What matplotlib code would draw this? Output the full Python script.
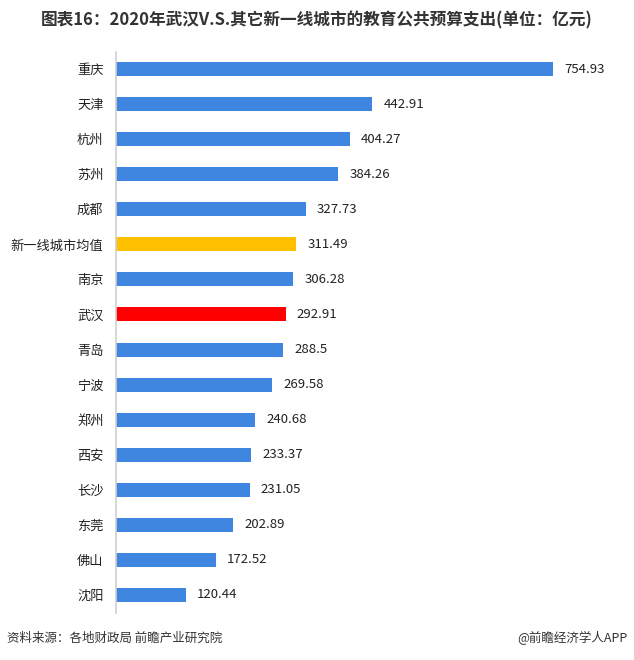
import matplotlib
matplotlib.use("Agg")
import matplotlib.pyplot as plt

plt.rcParams['font.family'] = ['Noto Sans CJK SC', 'DejaVu Sans']

categories = ["重庆", "天津", "杭州", "苏州", "成都", "新一线城市均值", "南京", "武汉",
              "青岛", "宁波", "郑州", "西安", "长沙", "东莞", "佛山", "沈阳"]
values = [754.93, 442.91, 404.27, 384.26, 327.73, 311.49, 306.28, 292.91,
          288.5, 269.58, 240.68, 233.37, 231.05, 202.89, 172.52, 120.44]
value_labels = ["754.93", "442.91", "404.27", "384.26", "327.73", "311.49", "306.28", "292.91",
                "288.5", "269.58", "240.68", "233.37", "231.05", "202.89", "172.52", "120.44"]

blue = "#3F86E0"
colors = []
for c in categories:
    if c == "新一线城市均值":
        colors.append("#FFC000")
    elif c == "武汉":
        colors.append("#FF0000")
    else:
        colors.append(blue)

W, H = 634, 660
fig = plt.figure(figsize=(W / 100, H / 100), dpi=100)
ax = fig.add_axes([116 / W, 1 - 612.5 / H, (625 - 116) / W, (612.5 - 51.5) / H])

ypos = list(range(len(categories)))
ax.barh(ypos, values, height=0.4, color=colors)
ax.set_ylim(len(categories) - 0.5, -0.5)
ax.set_xlim(0, (625 - 116) / (437 / 754.93))

for y, v, lab in zip(ypos, values, value_labels):
    ax.annotate(lab, xy=(v, y), xytext=(8, 0), textcoords="offset points",
                va="center", ha="left", fontsize=9.5, color="#222222")

ax.set_yticks(ypos)
ax.set_yticklabels(categories, fontsize=9.5, color="#222222")
ax.tick_params(axis="y", length=0, pad=9)
ax.set_xticks([])
for s in ["top", "right", "bottom"]:
    ax.spines[s].set_visible(False)
ax.spines["left"].set_color("#D0D0D0")
ax.spines["left"].set_linewidth(1.2)

fig.text(0.5, 1 - 20 / H, "图表16：2020年武汉V.S.其它新一线城市的教育公共预算支出(单位：亿元)",
         ha="center", va="center", fontsize=12, fontweight="bold", color="#333333")
fig.text(7 / W, 1 - 638 / H, "资料来源：各地财政局 前瞻产业研究院",
         ha="left", va="center", fontsize=9, color="#333333")
fig.text(628 / W, 1 - 638 / H, "@前瞻经济学人APP",
         ha="right", va="center", fontsize=9, color="#333333")

fig.savefig("out.png", dpi=100)
